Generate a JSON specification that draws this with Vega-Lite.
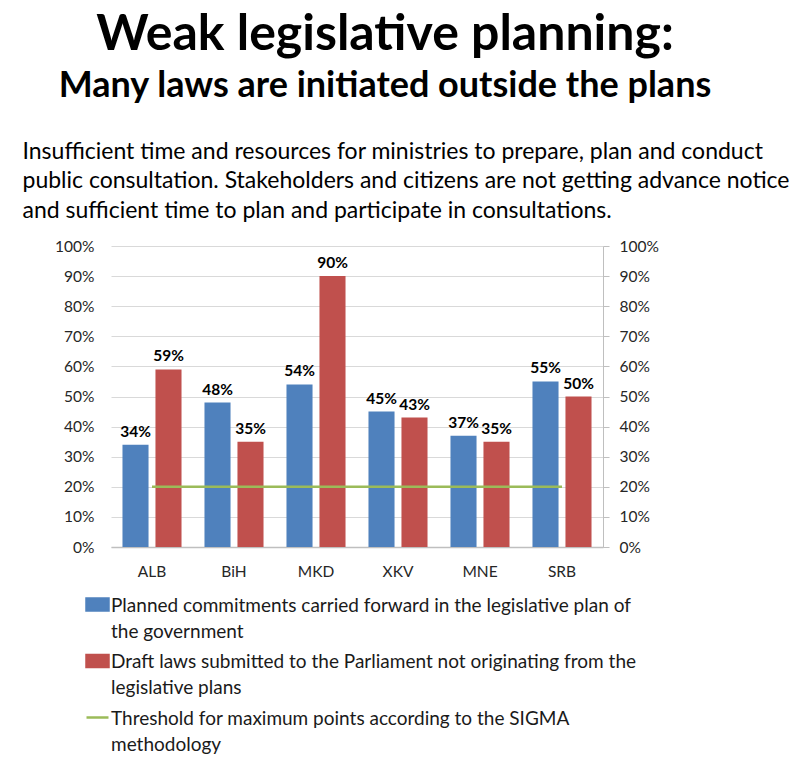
{
  "$schema": "https://vega.github.io/schema/vega-lite/v6.json",
  "width": 492,
  "height": 301,
  "autosize": {"type": "none"},
  "padding": {"left": 111, "top": 246, "right": 208, "bottom": 213},
  "background": "white",
  "title": {
    "text": "Weak legislative planning:",
    "subtitle": "Many laws are initiated outside the plans",
    "anchor": "middle",
    "frame": "group",
    "dx": 28,
    "offset": 36,
    "font": "Lato",
    "fontSize": 50,
    "fontWeight": "bold",
    "color": "#000000",
    "subtitleFont": "Lato",
    "subtitleFontSize": 36,
    "subtitleFontWeight": "bold",
    "subtitleColor": "#000000",
    "subtitlePadding": 9
  },
  "datasets": {
    "bars": [
      {"country": "ALB", "series": "Planned commitments carried forward in the legislative plan of the government", "value": 0.34},
      {"country": "ALB", "series": "Draft laws submitted to the Parliament not originating from the legislative plans", "value": 0.59},
      {"country": "BiH", "series": "Planned commitments carried forward in the legislative plan of the government", "value": 0.48},
      {"country": "BiH", "series": "Draft laws submitted to the Parliament not originating from the legislative plans", "value": 0.35},
      {"country": "MKD", "series": "Planned commitments carried forward in the legislative plan of the government", "value": 0.54},
      {"country": "MKD", "series": "Draft laws submitted to the Parliament not originating from the legislative plans", "value": 0.90},
      {"country": "XKV", "series": "Planned commitments carried forward in the legislative plan of the government", "value": 0.45},
      {"country": "XKV", "series": "Draft laws submitted to the Parliament not originating from the legislative plans", "value": 0.43},
      {"country": "MNE", "series": "Planned commitments carried forward in the legislative plan of the government", "value": 0.37},
      {"country": "MNE", "series": "Draft laws submitted to the Parliament not originating from the legislative plans", "value": 0.35},
      {"country": "SRB", "series": "Planned commitments carried forward in the legislative plan of the government", "value": 0.55},
      {"country": "SRB", "series": "Draft laws submitted to the Parliament not originating from the legislative plans", "value": 0.50}
    ],
    "threshold": [
      {"country": "ALB", "series": "Threshold for maximum points according to the SIGMA methodology", "value": 0.2},
      {"country": "BiH", "series": "Threshold for maximum points according to the SIGMA methodology", "value": 0.2},
      {"country": "MKD", "series": "Threshold for maximum points according to the SIGMA methodology", "value": 0.2},
      {"country": "XKV", "series": "Threshold for maximum points according to the SIGMA methodology", "value": 0.2},
      {"country": "MNE", "series": "Threshold for maximum points according to the SIGMA methodology", "value": 0.2},
      {"country": "SRB", "series": "Threshold for maximum points according to the SIGMA methodology", "value": 0.2}
    ]
  },
  "layer": [
    {
      "data": {"name": "bars"},
      "mark": {"type": "bar"},
      "encoding": {
        "x": {
          "field": "country", "type": "nominal",
          "sort": ["ALB", "BiH", "MKD", "XKV", "MNE", "SRB"],
          "scale": {"paddingInner": 0.28, "paddingOuter": 0.14},
          "axis": {
            "orient": "bottom", "title": null, "labelAngle": 0,
            "labelFontSize": 15.5, "labelColor": "#262626", "labelPadding": 17,
            "ticks": false, "domain": true, "domainColor": "#BFBFBF", "domainWidth": 1.3, "grid": false
          }
        },
        "xOffset": {
          "field": "series", "type": "nominal",
          "sort": ["Planned commitments carried forward in the legislative plan of the government", "Draft laws submitted to the Parliament not originating from the legislative plans"],
          "scale": {"paddingInner": 0.21, "paddingOuter": 0}
        },
        "y": {
          "field": "value", "type": "quantitative",
          "scale": {"domain": [0, 1], "nice": false},
          "axis": {
            "orient": "left", "title": null, "format": ".0%",
            "values": [0, 0.1, 0.2, 0.3, 0.4, 0.5, 0.6, 0.7, 0.8, 0.9, 1],
            "labelFontSize": 15.5, "labelColor": "#262626", "labelPadding": 17,
            "ticks": false, "domain": false, "grid": true, "gridColor": "#D9D9D9", "gridWidth": 1.2
          }
        },
        "color": {
          "field": "series", "type": "nominal",
          "scale": {
            "domain": [
              "Planned commitments carried forward in the legislative plan of the government",
              "Draft laws submitted to the Parliament not originating from the legislative plans",
              "Threshold for maximum points according to the SIGMA methodology"
            ],
            "range": ["#4F81BD", "#C0504D", "#9BBB59"]
          },
          "legend": {
            "orient": "none",
            "legendX": -26,
            "legendY": 346,
            "direction": "vertical",
            "title": null,
            "labelFont": "Lato",
            "labelFontSize": 19,
            "labelColor": "#1a1a1a",
            "labelLimit": 0,
            "labelOffset": 1,
            "labelBaseline": "alphabetic",
            "labelExpr": "datum.index == 0 ? ['Planned commitments carried forward in the legislative plan of', 'the government'] : datum.index == 1 ? ['Draft laws submitted to the Parliament not originating from the', 'legislative plans'] : ['Threshold for maximum points according to the SIGMA', 'methodology']",
            "symbolSize": 484,
            "rowPadding": 6.5,
            "encode": {
              "symbols": {
                "update": {
                  "shape": {"signal": "datum.index == 2 ? 'stroke' : 'M-1,-0.55H1V0.55H-1Z'"},
                  "fill": {"signal": "datum.index == 2 ? 'transparent' : scale('color', datum.value)"},
                  "stroke": {"signal": "datum.index == 2 ? scale('color', datum.value) : 'transparent'"},
                  "strokeWidth": {"value": 2.5},
                  "opacity": {"value": 1}
                }
              },
              "labels": {
                "update": {"dy": {"value": 7}, "lineHeight": {"value": 26}}
              }
            }
          }
        }
      }
    },
    {
      "data": {"name": "bars"},
      "mark": {"type": "text", "baseline": "bottom", "dy": -5, "fontWeight": "bold", "fontSize": 15.5, "font": "Lato", "color": "#000000"},
      "encoding": {
        "x": {
          "field": "country", "type": "nominal",
          "sort": ["ALB", "BiH", "MKD", "XKV", "MNE", "SRB"],
          "axis": {
            "orient": "top", "labels": false, "ticks": false, "domain": false, "grid": false,
            "title": [
              "Insufficient time and resources for ministries to prepare, plan and conduct",
              "public consultation. Stakeholders and citizens are not getting advance notice",
              "and sufficient time to plan and participate in consultations."
            ],
            "titleFont": "Lato", "titleFontSize": 23, "titleFontWeight": "normal", "titleColor": "#000000",
            "titleAnchor": "start", "titleAlign": "left", "titleBaseline": "alphabetic",
            "titleX": -89, "titleY": -88, "titleLineHeight": 29.5
          }
        },
        "xOffset": {
          "field": "series", "type": "nominal",
          "sort": ["Planned commitments carried forward in the legislative plan of the government", "Draft laws submitted to the Parliament not originating from the legislative plans"]
        },
        "y": {
          "field": "value", "type": "quantitative",
          "axis": {
            "orient": "right", "title": null, "format": ".0%",
            "values": [0, 0.1, 0.2, 0.3, 0.4, 0.5, 0.6, 0.7, 0.8, 0.9, 1],
            "labelFontSize": 15.5, "labelColor": "#262626", "labelPadding": 10,
            "ticks": true, "tickSize": 6, "tickColor": "#BFBFBF", "domain": true, "domainColor": "#BFBFBF", "grid": false
          }
        },
        "text": {"field": "value", "type": "quantitative", "format": ".0%"}
      }
    },
    {
      "data": {"name": "threshold"},
      "mark": {"type": "line", "strokeWidth": 2.5},
      "encoding": {
        "x": {"field": "country", "type": "nominal", "sort": ["ALB", "BiH", "MKD", "XKV", "MNE", "SRB"], "axis": null},
        "y": {"field": "value", "type": "quantitative", "axis": null},
        "color": {"field": "series", "type": "nominal"}
      }
    }
  ],
  "resolve": {"axis": {"x": "independent", "y": "independent"}},
  "config": {
    "font": "Lato",
    "view": {"stroke": null},
    "axis": {"labelFont": "Lato"}
  }
}
